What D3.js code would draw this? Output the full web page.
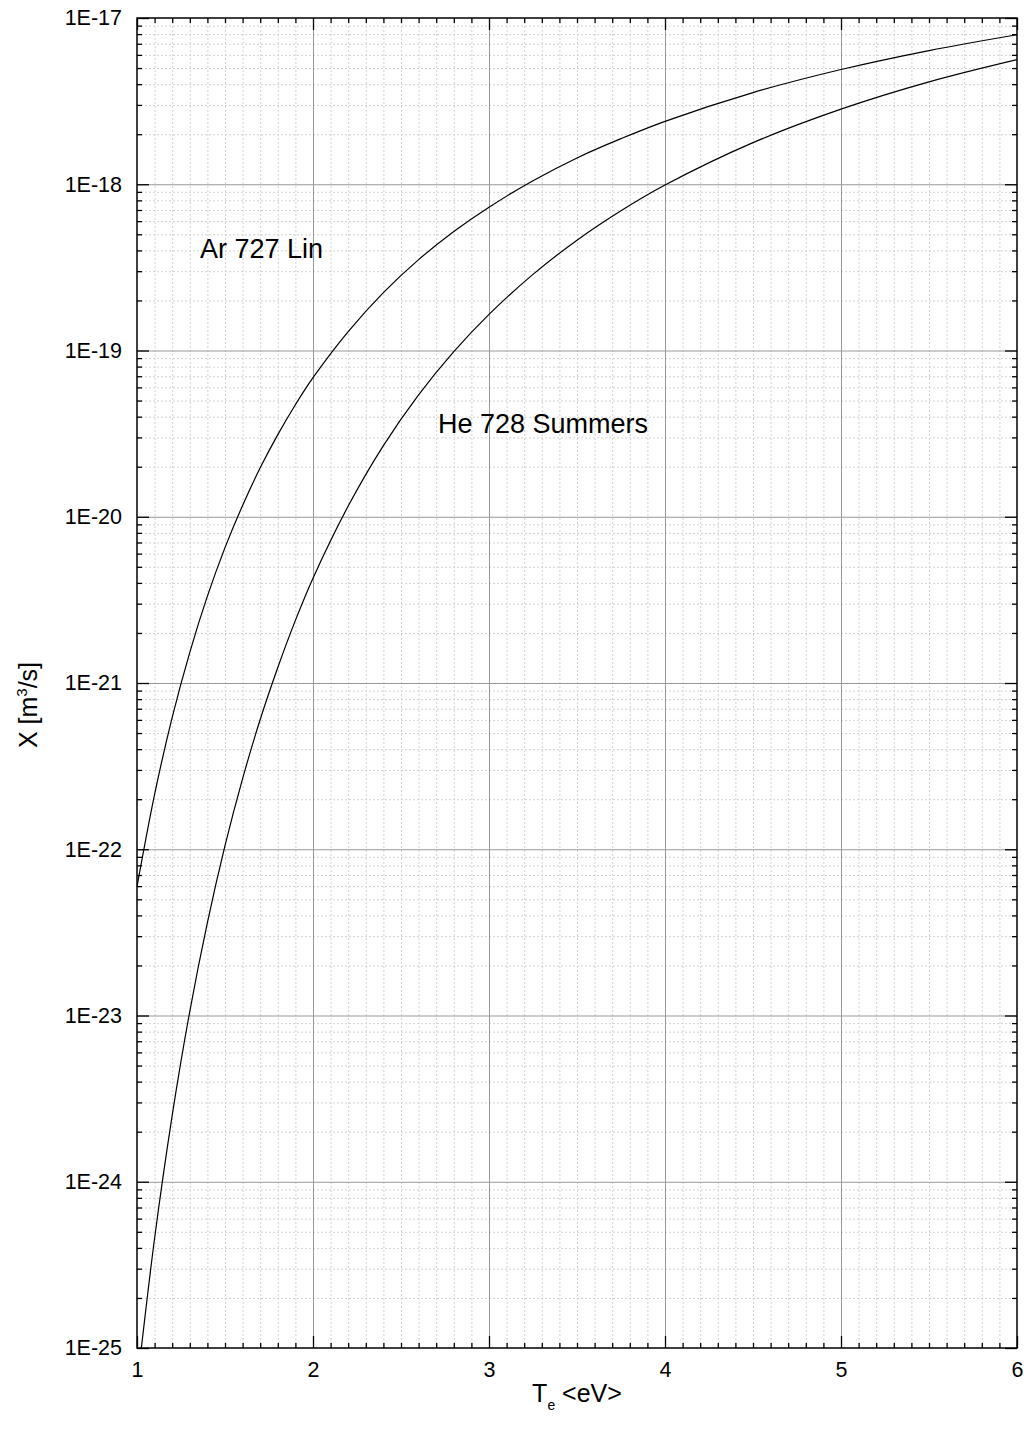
<!DOCTYPE html>
<html>
<head>
<meta charset="utf-8">
<script src="https://cdn.jsdelivr.net/npm/d3@7"></script>
<style>
  body { margin: 0; background: #fff; }
  svg { display: block; font-family: "Liberation Sans", Arial, Helvetica, sans-serif; }
</style>
</head>
<body>
<script>
// values (T_e in eV, X in m^3/s)
const temps = [1.0, 1.1, 1.2, 1.3, 1.4, 1.5, 1.6, 1.7, 1.8, 1.9, 2.0, 2.2, 2.4, 2.6, 2.8, 3.0, 3.25, 3.5, 3.75, 4.0, 4.5, 5.0, 5.5, 6.0];
const arRate = [5.96e-23, 2.14e-22, 6.21e-22, 1.53e-21, 3.33e-21, 6.52e-21, 1.17e-20, 1.97e-20, 3.12e-20, 4.72e-20, 6.86e-20, 1.30e-19, 2.23e-19, 3.52e-19, 5.20e-19, 7.28e-19, 1.05e-18, 1.44e-18, 1.88e-18, 2.39e-18, 3.56e-18, 4.90e-18, 6.37e-18, 7.93e-18];
const heRate = [5.90e-26, 4.57e-25, 2.51e-24, 1.06e-23, 3.62e-23, 1.05e-22, 2.66e-22, 6.03e-22, 1.24e-21, 2.38e-21, 4.27e-21, 1.16e-20, 2.68e-20, 5.41e-20, 9.84e-20, 1.65e-19, 2.87e-19, 4.61e-19, 6.93e-19, 9.89e-19, 1.78e-18, 2.83e-18, 4.13e-18, 5.62e-18];

const xMajor = [1, 2, 3, 4, 5, 6];
const yMajor = [1e-25, 1e-24, 1e-23, 1e-22, 1e-21, 1e-20, 1e-19, 1e-18, 1e-17];

const labels = [
  { text: 'Ar 727 Lin', t: 1.358, v: 3.6e-19 },
  { text: 'He 728 Summers', t: 2.71, v: 3.19e-20 }
];

const width = 1028, height = 1437;
const margin = { top: 18, right: 11, bottom: 89, left: 137 };
const w = width - margin.left - margin.right,
  h = height - margin.top - margin.bottom;

const x = d3.scaleLinear().domain([1, 6]).range([0, w]);
const y = d3.scaleLog().domain([1e-25, 1e-17]).range([h, 0]);

// minor ticks: every 0.1 eV, and 2..9 in each decade
const xMinor = d3.range(10, 61).map(d => d / 10).filter(d => !xMajor.includes(d));
const yMinor = [];
yMajor.slice(0, -1).forEach(d => {
  for (let k = 2; k <= 9; k++) yMinor.push(d * k);
});

const svg = d3.select('body').append('svg')
  .attr('width', width)
  .attr('height', height);
svg.append('rect').attr('width', width).attr('height', height).attr('fill', '#fff');

const g = svg.append('g')
  .attr('transform', 'translate(' + margin.left + ',' + margin.top + ')');

// minor grid (dotted)
g.append('g')
  .attr('transform', 'translate(0,' + h + ')')
  .call(d3.axisBottom(x).tickValues(xMinor).tickSize(-h).tickFormat(''))
  .call(s => s.select('.domain').remove())
  .call(s => s.selectAll('line').attr('stroke', '#d2d2d2').attr('stroke-dasharray', '2,2'));
g.append('g')
  .call(d3.axisLeft(y).tickValues(yMinor).tickSize(-w).tickFormat(''))
  .call(s => s.select('.domain').remove())
  .call(s => s.selectAll('line').attr('stroke', '#d2d2d2').attr('stroke-dasharray', '2,2'));

// major grid
g.append('g')
  .attr('transform', 'translate(0,' + h + ')')
  .call(d3.axisBottom(x).tickValues(xMajor.slice(1, -1)).tickSize(-h).tickFormat(''))
  .call(s => s.select('.domain').remove())
  .call(s => s.selectAll('line').attr('stroke', '#999'));
g.append('g')
  .call(d3.axisLeft(y).tickValues(yMajor.slice(1, -1)).tickSize(-w).tickFormat(''))
  .call(s => s.select('.domain').remove())
  .call(s => s.selectAll('line').attr('stroke', '#999'));

// curves
g.append('clipPath').attr('id', 'clip')
  .append('rect').attr('width', w).attr('height', h);

const line = d3.line()
  .x(d => x(d[0]))
  .y(d => y(d[1]))
  .curve(d3.curveCatmullRom.alpha(0.5));

[d3.zip(temps, arRate), d3.zip(temps, heRate)].forEach(series => {
  g.append('path')
    .datum(series)
    .attr('clip-path', 'url(#clip)')
    .attr('fill', 'none')
    .attr('stroke', '#000')
    .attr('stroke-width', 1.2)
    .attr('d', line);
});

// tick marks pointing inward on all four sides
function ticks(axis, values, size, transform) {
  g.append('g')
    .attr('transform', transform)
    .call(axis.tickValues(values).tickSize(size).tickFormat(''))
    .call(s => s.select('.domain').remove())
    .call(s => s.selectAll('line').attr('stroke', '#000').attr('stroke-width', 1.3));
}
ticks(d3.axisBottom(x), xMinor, -5, 'translate(0,' + h + ')');
ticks(d3.axisBottom(x), xMajor, -12, 'translate(0,' + h + ')');
ticks(d3.axisTop(x), xMinor, -5, 'translate(0,0)');
ticks(d3.axisTop(x), xMajor, -12, 'translate(0,0)');
ticks(d3.axisLeft(y), yMinor, -5, 'translate(0,0)');
ticks(d3.axisLeft(y), yMajor, -12, 'translate(0,0)');
ticks(d3.axisRight(y), yMinor, -5, 'translate(' + w + ',0)');
ticks(d3.axisRight(y), yMajor, -12, 'translate(' + w + ',0)');

// frame
g.append('rect')
  .attr('width', w).attr('height', h)
  .attr('fill', 'none').attr('stroke', '#000').attr('stroke-width', 1.5);

// tick labels
g.append('g')
  .attr('transform', 'translate(0,' + h + ')')
  .call(d3.axisBottom(x).tickValues(xMajor).tickSize(0).tickPadding(14).tickFormat(d3.format('d')))
  .call(s => s.select('.domain').remove())
  .call(s => s.selectAll('text').attr('font-size', 21.5).attr('fill', '#000')
    .attr('font-family', '"Liberation Sans", Arial, sans-serif'));

g.append('g')
  .call(d3.axisLeft(y).tickValues(yMajor).tickSize(0).tickPadding(15)
    .tickFormat(d => '1E' + Math.round(Math.log10(d))))
  .call(s => s.select('.domain').remove())
  .call(s => s.selectAll('text').attr('font-size', 21.5).attr('fill', '#000')
    .attr('font-family', '"Liberation Sans", Arial, sans-serif'));

// axis titles
const xt = svg.append('text')
  .attr('x', margin.left + w / 2)
  .attr('y', 1402)
  .attr('text-anchor', 'middle')
  .attr('font-size', 25);
xt.append('tspan').text('T');
xt.append('tspan').attr('font-size', 14).attr('dy', 8).text('e');
xt.append('tspan').attr('dy', -8).text(' <eV>');

const yt = svg.append('text')
  .attr('transform', 'translate(37,705) rotate(-90)')
  .attr('text-anchor', 'middle')
  .attr('font-size', 25);
yt.append('tspan').text('X [m');
yt.append('tspan').attr('font-size', 15).attr('dy', -10).text('3');
yt.append('tspan').attr('dy', 10).text('/s]');

// curve labels
g.selectAll('.curve-label')
  .data(labels)
  .enter()
  .append('text')
  .attr('class', 'curve-label')
  .attr('x', d => x(d.t))
  .attr('y', d => y(d.v))
  .attr('font-size', 27)
  .text(d => d.text);
</script>
</body>
</html>
